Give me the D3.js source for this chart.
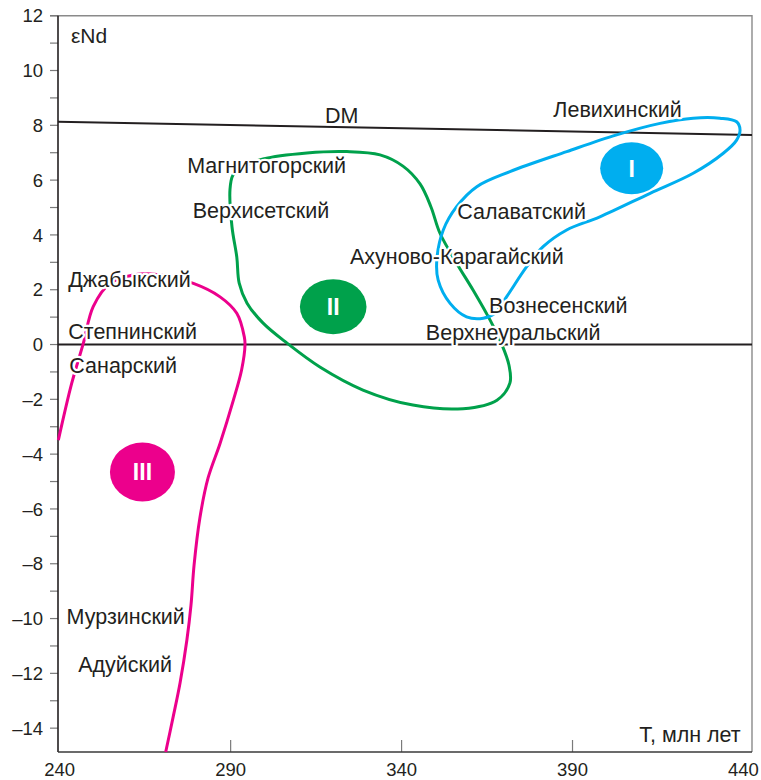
<!DOCTYPE html>
<html>
<head>
<meta charset="utf-8">
<script src="https://cdn.jsdelivr.net/npm/d3@7/dist/d3.min.js"></script>
<style>
  html, body { margin: 0; padding: 0; background: #fff; }
  svg { display: block; font-family: "Liberation Sans", Arial, Helvetica, sans-serif; }
</style>
</head>
<body>
<svg id="chart" width="761" height="780"></svg>
<script>
// Axis ranges (T, million years; εNd)
const tDomain = [239.5, 442.5];
const eDomain = [-14.87, 12];
const xTickValues = [240, 290, 340, 390, 440];
const xInnerTicks = [290, 340, 390];
const yMajorTicks = [-14, -12, -10, -8, -6, -4, -2, 0, 2, 4, 6, 8, 10, 12];
const yMinorTicks = [-13, -11, -9, -7, -5, -3, -1, 1, 3, 5, 7, 9, 11];

// Depleted mantle evolution line
const dmLine = [[239.5, 8.13], [442.5, 7.65]];
const zeroLine = [[239.5, 0], [442.5, 0]];

// Field I (closed)
const fieldI = [
  [439.0, 7.83], [438.0, 8.13], [433.1, 8.26], [425.3, 8.26], [415.6, 8.07],
  [402.9, 7.65], [388.3, 7.04], [371.7, 6.31], [362.0, 5.76], [356.1, 5.03],
  [352.2, 4.18], [350.3, 3.08], [350.7, 2.35], [354.2, 1.50], [359.0, 1.01],
  [363.9, 0.96], [367.3, 1.14], [370.7, 1.74], [376.6, 2.84], [381.4, 3.57],
  [388.3, 4.18], [398.0, 4.66], [412.7, 5.52], [425.3, 6.25], [434.1, 6.98],
  [438.0, 7.46]
];

// Field II (closed)
const fieldII = [
  [293.6, 6.48], [299.5, 6.77], [312.3, 6.99], [324.0, 7.04], [333.7, 6.92],
  [340.4, 6.51], [345.4, 5.86], [348.6, 5.02], [351.2, 4.07], [356.1, 2.97],
  [360.9, 1.99], [365.9, 0.89], [369.4, -0.02], [371.4, -0.75], [371.7, -1.40],
  [367.9, -2.03], [358.0, -2.34], [343.3, -2.21], [328.7, -1.66], [316.1, -0.82],
  [306.5, 0.05], [299.5, 0.78], [294.8, 1.51], [292.5, 2.24], [291.8, 3.19],
  [290.4, 4.29], [289.8, 5.64], [290.7, 6.19]
];

// Field III (open)
const fieldIII = [
  [239.6, -3.49], [243.5, -1.42], [246.9, 0.04], [249.8, 1.38], [254.7, 2.23],
  [261.5, 2.54], [268.4, 2.56], [279.1, 2.23], [286.9, 1.74], [291.8, 1.14],
  [294.0, 0.28], [294.2, -0.02], [293.2, -0.93], [290.8, -2.03], [286.9, -3.61],
  [283.4, -4.87], [281.0, -6.33], [279.3, -8.05], [278.4, -9.51], [277.2, -10.78],
  [275.2, -12.35], [273.2, -13.58], [271.0, -14.87]
];

// Field badges: numeral, centre (T, εNd)
const badgeNames = ["I", "II", "III"];
const badgeT = [407.3, 320.0, 264.2];
const badgeE = [6.43, 1.38, -4.65];

// Massif names: text, left anchor T, baseline εNd
const labelNames = ["Левихинский", "Салаватский", "Ахуново-Карагайский", "Вознесенский",
  "Верхнеуральский", "Магнитогорский", "Верхисетский", "Джабыкский", "Степнинский",
  "Санарский", "Мурзинский", "Адуйский"];
const labelT = [384.4, 356.3, 324.9, 365.6, 347.1, 277.3, 278.9, 242.5, 242.5, 242.8, 242.0, 245.4];
const labelE = [8.29, 4.57, 2.95, 1.16, 0.16, 6.27, 4.61, 2.11, 0.19, -1.03, -10.2, -11.94];

const dmLabel = { text: "DM", t: 317.6, e: 8.09 };
const yTitle = { text: "εNd", t: 243.3, e: 10.99 };
const xTitle = { text: "T, млн лет", t: 439.2, e: -14.51 };

// ---- layout & style ----
const plot = { left: 58, right: 752, top: 15.7, bottom: 752 };
const colors = { I: "#00aeef", II: "#00a14b", III: "#ec008c", ink: "#231f20", frame: "#8a8a8a", tick: "#7a7a7a" };
const badgeR = { I: [31.5, 26], II: [33.3, 27.5], III: [32.5, 29.5] };
const nameSize = 21.5;

const svg = d3.select("#chart");
const x = d3.scaleLinear().domain(tDomain).range([plot.left, plot.right]);
const y = d3.scaleLinear().domain(eDomain).range([plot.bottom, plot.top]);

const fmt = d => d < 0 ? "\u2013" + Math.abs(d) : String(d);

// frame (top and right)
svg.append("path")
  .attr("d", `M${plot.left - 8},${plot.top}H${plot.right}V${plot.bottom}`)
  .attr("fill", "none").attr("stroke", colors.frame).attr("stroke-width", 1.4);

// y axis
const yAxis = svg.append("g").attr("transform", `translate(${plot.left},0)`);
yAxis.selectAll("line").data(yMajorTicks.concat(yMinorTicks)).join("line")
  .attr("x1", -8).attr("x2", 0)
  .attr("y1", d => y(d)).attr("y2", d => y(d))
  .attr("stroke", colors.tick).attr("stroke-width", 1.2);
yAxis.selectAll("text").data(yMajorTicks).join("text")
  .attr("x", -15).attr("y", d => y(d)).attr("dy", "0.36em")
  .attr("text-anchor", "end").attr("font-size", 18.5).attr("fill", colors.ink)
  .text(fmt);
yAxis.append("line").attr("x1", 0).attr("x2", 0).attr("y1", plot.top).attr("y2", plot.bottom)
  .attr("stroke", colors.ink).attr("stroke-width", 1.6);

// x axis
const xAxis = svg.append("g").attr("transform", `translate(0,${plot.bottom})`);
xAxis.selectAll("line").data(xInnerTicks).join("line")
  .attr("x1", d => x(d)).attr("x2", d => x(d)).attr("y1", 0).attr("y2", -12)
  .attr("stroke", colors.tick).attr("stroke-width", 1.2);
xAxis.selectAll("text").data(xTickValues).join("text")
  .attr("x", d => x(d)).attr("y", 23.5)
  .attr("text-anchor", "middle").attr("font-size", 18.5).attr("fill", colors.ink)
  .text(fmt);
xAxis.append("line").attr("x1", plot.left).attr("x2", plot.right).attr("y1", 0).attr("y2", 0)
  .attr("stroke", "#3a3a3a").attr("stroke-width", 1.6);

const line = d3.line().x(d => x(d[0])).y(d => y(d[1]));

// reference lines
svg.append("path").attr("d", line(dmLine)).attr("fill", "none")
  .attr("stroke", colors.ink).attr("stroke-width", 2);
svg.append("path").attr("d", line(zeroLine)).attr("fill", "none")
  .attr("stroke", colors.ink).attr("stroke-width", 2);

// fields
const closed = d3.line().x(d => x(d[0])).y(d => y(d[1])).curve(d3.curveCatmullRomClosed.alpha(0.5));
const open = d3.line().x(d => x(d[0])).y(d => y(d[1])).curve(d3.curveCatmullRom.alpha(0.5));
svg.append("path").attr("d", closed(fieldII)).attr("fill", "none")
  .attr("stroke", colors.II).attr("stroke-width", 3);
svg.append("path").attr("d", closed(fieldI)).attr("fill", "none")
  .attr("stroke", colors.I).attr("stroke-width", 3);
svg.append("path").attr("d", open(fieldIII)).attr("fill", "none")
  .attr("stroke", colors.III).attr("stroke-width", 3);

// badges
const badges = svg.selectAll("g.badge").data(badgeNames).join("g")
  .attr("class", "badge")
  .attr("transform", (d, i) => `translate(${x(badgeT[i])},${y(badgeE[i])})`);
badges.append("ellipse")
  .attr("rx", d => badgeR[d][0]).attr("ry", d => badgeR[d][1])
  .attr("fill", d => colors[d]);
badges.append("text")
  .attr("text-anchor", "middle").attr("dy", "0.36em")
  .attr("font-size", 23).attr("font-weight", "bold").attr("fill", "#fff")
  .text(d => d);

// names with white halo
const haloText = (sel) => sel
  .attr("fill", colors.ink).attr("stroke", "#fff").attr("stroke-width", 4.5)
  .attr("stroke-linejoin", "round").attr("paint-order", "stroke");

svg.selectAll("text.name").data(labelNames).join("text")
  .attr("class", "name")
  .attr("x", (d, i) => x(labelT[i])).attr("y", (d, i) => y(labelE[i]))
  .attr("font-size", nameSize)
  .call(haloText)
  .text(d => d);

svg.append("text").attr("x", x(dmLabel.t)).attr("y", y(dmLabel.e))
  .attr("font-size", nameSize).call(haloText).text(dmLabel.text);
svg.append("text").attr("x", x(yTitle.t)).attr("y", y(yTitle.e))
  .attr("font-size", 21).attr("fill", colors.ink).text(yTitle.text);
svg.append("text").attr("x", x(xTitle.t)).attr("y", y(xTitle.e))
  .attr("text-anchor", "end").attr("font-size", nameSize).attr("fill", colors.ink).text(xTitle.text);
</script>
</body>
</html>
